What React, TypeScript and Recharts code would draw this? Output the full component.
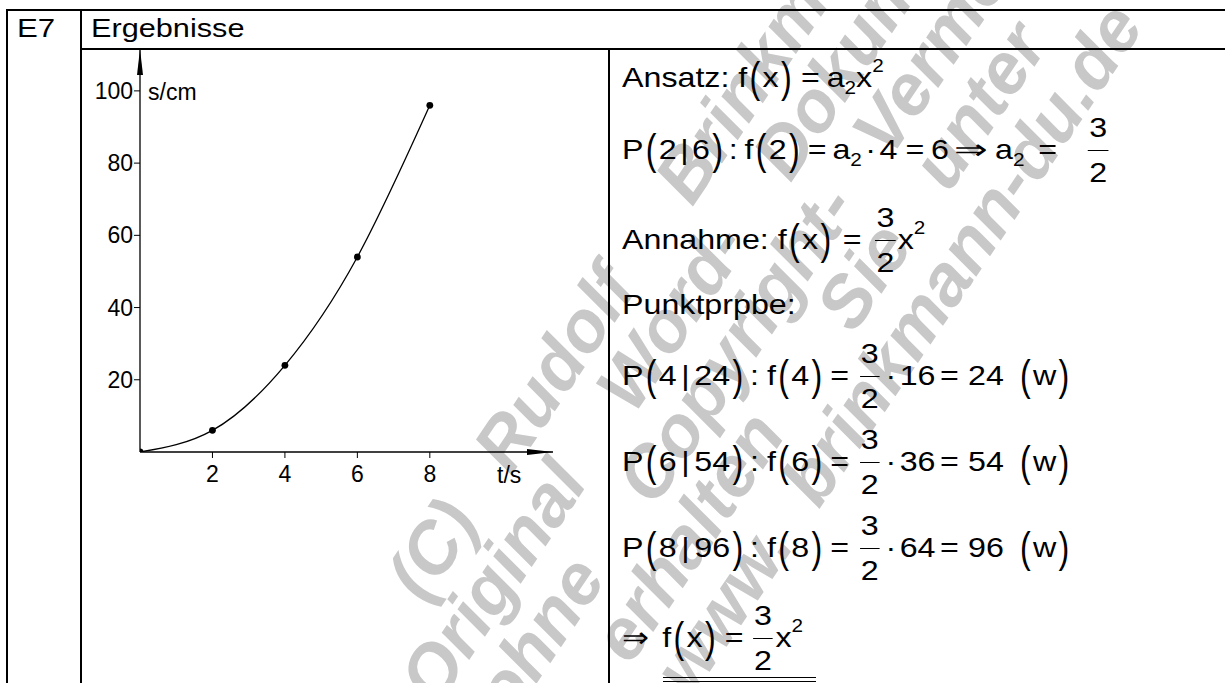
import React from "react";
import { ComposedChart, Line, XAxis, YAxis } from "recharts";

// measured points: time in s, distance in cm
const times = [0, 2, 4, 6, 8];
const distances = [0, 6, 24, 54, 96];
const xTicks = [2, 4, 6, 8];
const yTicks = [20, 40, 60, 80, 100];
const xDomain = [0, 11.4];
const yDomain = [0, 111.6];

// watermark words per line, with their start along the line
const watermarkWords = [
  ["(C)", "Rudolf", "Brinkmann"],
  ["Original", "Word-", "Dokument"],
  ["ohne", "Copyright-", "Vermerk"],
  ["erhalten", "Sie", "unter"],
  ["www.", "brinkmann-du.de"],
];
const watermarkStarts = [
  [-264, -109, 215],
  [-342, 10, 290],
  [-312, -55, 365],
  [-200, 200, 370],
  [-192, 35],
];
const watermarkOffsets = [665, 733, 802, 870, 939];

const points = times.map((t, i) => ({ t, s: distances[i] }));

const FONT = '"Liberation Sans", Arial, Helvetica, sans-serif';
const COS = Math.cos((56 * Math.PI) / 180);
const SIN = Math.sin((56 * Math.PI) / 180);

const Paren = ({ c }: { c: string }) => (
  <span style={{ display: "inline-block", transform: "scaleY(1.55)", lineHeight: 1, margin: "0 2px" }}>{c}</span>
);

const T = ({ children, style }: any) => (
  <span style={{ lineHeight: 1, whiteSpace: "pre", ...style }}>{children}</span>
);

const Sub = ({ c }: { c: string }) => (
  <span style={{ lineHeight: 1, fontSize: 18, position: "relative", top: 10 }}>{c}</span>
);

const Sup = ({ c }: { c: string }) => (
  <span style={{ lineHeight: 1, fontSize: 18, position: "relative", top: -12 }}>{c}</span>
);

const Frac = ({ n, d }: { n: string; d: string }) => (
  <span style={{ display: "inline-flex", flexDirection: "column", alignItems: "center", margin: "0 3px" }}>
    <span style={{ lineHeight: 1 }}>{n}</span>
    <span style={{ alignSelf: "stretch", borderTop: "1.5px solid #000", margin: "8px -1px" }} />
    <span style={{ lineHeight: 1 }}>{d}</span>
  </span>
);

const Eq = ({ l = 6, r = 6 }: { l?: number; r?: number }) => (
  <T style={{ margin: `0 ${r}px 0 ${l}px` }}>=</T>
);

// wide implication arrow
const Implies = ({ w, m }: { w: number; m: number }) => (
  <span style={{ display: "inline-block", width: w, margin: `0 ${m}px`, lineHeight: 1 }}>
    <span style={{ display: "inline-block", transform: `scaleX(${w / 24})`, transformOrigin: "left" }}>⇒</span>
  </span>
);

// one formula row, vertically centred on its math axis
const Row = ({ axis, children }: { axis: number; children: React.ReactNode }) => (
  <div
    style={{
      position: "absolute",
      left: 622,
      top: axis - 50,
      height: 100,
      display: "flex",
      alignItems: "center",
      fontSize: 28,
      whiteSpace: "nowrap",
      transform: "scaleX(1.15)",
      transformOrigin: "0 50%",
    }}
  >
    {children}
  </div>
);

const Point = ({ x, y, t }: { x: string; y: string; t: string }) => (
  <>
    <T>P</T>
    <Paren c="(" />
    <T>{x}</T>
    <T style={{ margin: "0 4px" }}>|</T>
    <T>{y}</T>
    <Paren c=")" />
    <T style={{ margin: "0 7px 0 4px" }}>:</T>
    <T>f</T>
    <Paren c="(" />
    <T>{x}</T>
    <Paren c=")" />
    <Eq l={5} r={7} />
    <Frac n="3" d="2" />
    <T style={{ margin: "0 3px" }}>·</T>
    <T>{t}</T>
    <Eq l={4} r={8} />
    <T>{y}</T>
    <T style={{ width: 12 }}> </T>
    <Paren c="(" />
    <T>w</T>
    <Paren c=")" />
  </>
);

const line = (left: number, top: number, width: number, height: number) => (
  <div style={{ position: "absolute", left, top, width, height, background: "#000" }} />
);

export default function App() {
  return (
    <div
      style={{
        position: "relative",
        width: 1225,
        height: 683,
        overflow: "hidden",
        background: "#fff",
        fontFamily: FONT,
        color: "#000",
      }}
    >
      <style>{"body{margin:0}"}</style>

      {/* watermark, rotated lines of words */}
      <svg width={1225} height={683} style={{ position: "absolute", left: 0, top: 0 }}>
        {watermarkWords.map((words, i) =>
          words.map((w, j) => {
            const u = watermarkStarts[i][j];
            const n = watermarkOffsets[i];
            const x = COS * u + SIN * n;
            const y = -SIN * u + COS * n;
            return (
              <text
                key={`${i}-${j}`}
                x={x}
                y={y}
                transform={`rotate(-56 ${x} ${y})`}
                dominantBaseline="central"
                fontFamily={FONT}
                fontSize={72}
                fontWeight="bold"
                fontStyle="italic"
                fill="#c8c8c8"
              >
                {w}
              </text>
            );
          })
        )}
      </svg>

      {/* arrow heads for the axes */}
      <svg width={0} height={0} style={{ position: "absolute" }}>
        <defs>
          <marker
            id="axisArrow"
            markerUnits="userSpaceOnUse"
            markerWidth={26}
            markerHeight={7}
            refX={26}
            refY={3.5}
            orient="auto-start-reverse"
          >
            <path d="M0,0.5 L26,3.5 L0,6.5 Z" fill="#000" />
          </marker>
        </defs>
      </svg>

      {/* table grid */}
      {line(6, 9, 1219, 2)}
      {line(6, 9, 2, 674)}
      {line(80, 9, 2, 674)}
      {line(80, 48, 1145, 2)}
      {line(608, 48, 2, 635)}

      <div style={{ position: "absolute", left: 17, top: 15, fontSize: 26, lineHeight: 1, transform: "scaleX(1.2)", transformOrigin: "left" }}>
        E7
      </div>
      <div style={{ position: "absolute", left: 91, top: 15, fontSize: 26, lineHeight: 1, transform: "scaleX(1.18)", transformOrigin: "left" }}>
        Ergebnisse
      </div>

      {/* s(t) diagram */}
      <div style={{ position: "absolute", left: 0, top: 0 }}>
        <ComposedChart
          width={609}
          height={683}
          data={points}
          margin={{ top: 49, right: 56, left: 80, bottom: 201 }}
        >
          <XAxis
            dataKey="t"
            type="number"
            domain={xDomain}
            allowDataOverflow
            ticks={xTicks}
            height={30}
            tickSize={6}
            tickMargin={8}
            tickLine={{ stroke: "#000", strokeWidth: 1 }}
            axisLine={{ stroke: "#000", strokeWidth: 1.3, markerEnd: "url(#axisArrow)" }}
            tick={{ fill: "#000", fontSize: 23, fontFamily: FONT }}
            label={(props: any) => {
              const vb = props.viewBox;
              return (
                <text x={vb.x + vb.width - 56} y={vb.y + 31} fontSize={23} fontFamily={FONT} fill="#000">
                  t/s
                </text>
              );
            }}
          />
          <YAxis
            dataKey="s"
            type="number"
            domain={yDomain}
            allowDataOverflow
            ticks={yTicks}
            width={60}
            tickSize={6}
            tickMargin={1}
            tickLine={{ stroke: "#000", strokeWidth: 1 }}
            axisLine={{ stroke: "#000", strokeWidth: 1.3, markerStart: "url(#axisArrow)" }}
            tick={{ fill: "#000", fontSize: 23, fontFamily: FONT }}
            label={(props: any) => {
              const vb = props.viewBox;
              return (
                <text x={vb.x + vb.width + 8} y={vb.y + 51} fontSize={23} fontFamily={FONT} fill="#000">
                  s/cm
                </text>
              );
            }}
          />
          <Line
            type="natural"
            dataKey="s"
            stroke="#000"
            strokeWidth={1.3}
            dot={{ r: 3.4, fill: "#000", stroke: "#000", strokeWidth: 0 }}
            activeDot={false}
            isAnimationActive={false}
          />
        </ComposedChart>
      </div>

      {/* working on the right */}
      <Row axis={78}>
        <T>Ansatz: f</T>
        <Paren c="(" />
        <T>x</T>
        <Paren c=")" />
        <Eq />
        <T>a</T>
        <Sub c="2" />
        <T>x</T>
        <Sup c="2" />
      </Row>

      <Row axis={150}>
        <T>P</T>
        <Paren c="(" />
        <T>2</T>
        <T style={{ margin: "0 3px" }}>|</T>
        <T>6</T>
        <Paren c=")" />
        <T style={{ margin: "0 6px 0 3px" }}>:</T>
        <T>f</T>
        <Paren c="(" />
        <T>2</T>
        <Paren c=")" />
        <Eq l={5} r={5} />
        <T>a</T>
        <Sub c="2" />
        <T style={{ margin: "0 3px" }}>·</T>
        <T>4</T>
        <Eq l={7} r={6} />
        <T>6</T>
        <Implies w={30} m={5} />
        <T>a</T>
        <Sub c="2" />
        <Eq l={12} r={25} />
        <Frac n="3" d="2" />
      </Row>

      <Row axis={240}>
        <T>Annahme: f</T>
        <Paren c="(" />
        <T>x</T>
        <Paren c=")" />
        <Eq l={8} r={10} />
        <Frac n="3" d="2" />
        <T>x</T>
        <Sup c="2" />
      </Row>

      <Row axis={305}>
        <T>Punktprpbe:</T>
      </Row>

      <Row axis={376}>
        <Point x="4" y="24" t="16" />
      </Row>
      <Row axis={462}>
        <Point x="6" y="54" t="36" />
      </Row>
      <Row axis={548}>
        <Point x="8" y="96" t="64" />
      </Row>

      <Row axis={638}>
        <T style={{ marginRight: 12 }}>⇒</T>
        <T>f</T>
        <Paren c="(" />
        <T>x</T>
        <Paren c=")" />
        <Eq />
        <Frac n="3" d="2" />
        <T>x</T>
        <Sup c="2" />
      </Row>
      {line(663, 677, 153, 1.4)}
      {line(663, 681, 153, 1.4)}
    </div>
  );
}
